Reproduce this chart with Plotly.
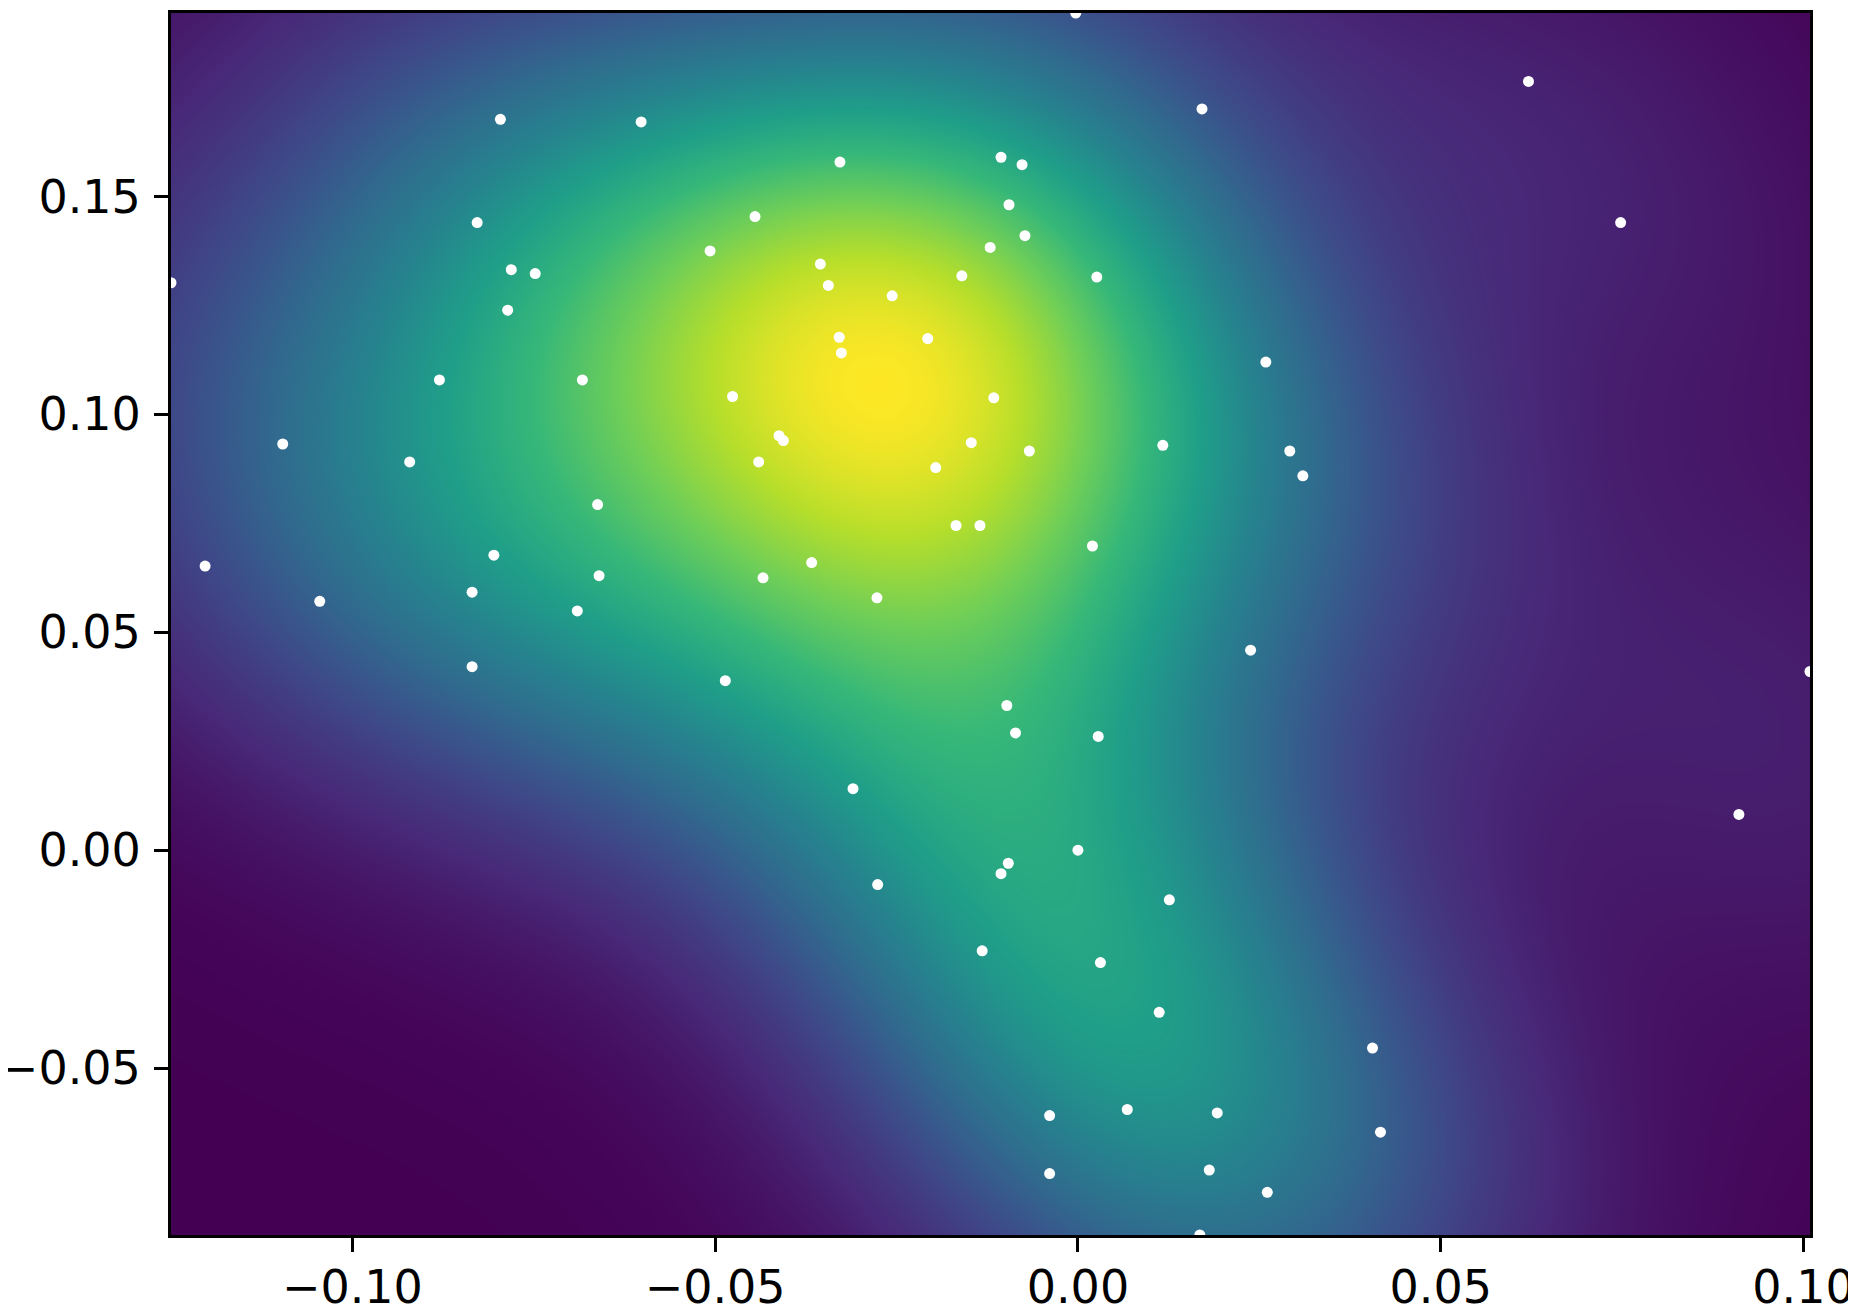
import numpy as np
import plotly.graph_objects as go

# Scatter points
x_vals = [-0.0003, 0.0621, 0.0171, -0.0796, -0.0602, -0.0328, -0.0106, -0.0077, -0.0095, -0.0445,
          -0.0828, 0.0748, -0.0073, -0.0507, -0.0121, -0.0355, -0.0781, -0.0748, -0.0160, 0.0026,
          -0.1250, -0.0344, -0.0256, -0.0786, -0.0329, -0.0207, -0.0326, 0.0259, -0.0880, -0.0683,
          -0.0476, -0.0116, -0.0412, -0.0406, -0.1096, -0.0147, 0.0117, -0.0067, 0.0292, -0.0921,
          -0.0440, -0.0196, 0.0310, -0.0662, -0.0168, -0.0135, 0.0020, -0.0805, -0.0367, -0.1203,
          -0.0660, -0.0434, -0.0835, -0.0277, -0.1045, -0.0690, 0.0238, -0.0835, -0.0486, 0.1009,
          -0.0098, -0.0086, 0.0028, -0.0310, 0.0911, 0.0000, -0.0096, -0.0106, -0.0276, 0.0126,
          -0.0132, 0.0031, 0.0112, 0.0406, -0.0039, 0.0068, 0.0192, 0.0417, -0.0039, 0.0181,
          0.0261, 0.0168]
y_vals = [0.1921, 0.1764, 0.1701, 0.1677, 0.1671, 0.1579, 0.1590, 0.1573, 0.1481, 0.1454,
          0.1440, 0.1440, 0.1410, 0.1375, 0.1383, 0.1345, 0.1332, 0.1323, 0.1318, 0.1315,
          0.1302, 0.1296, 0.1272, 0.1239, 0.1177, 0.1174, 0.1141, 0.1120, 0.1079, 0.1079,
          0.1041, 0.1038, 0.0951, 0.0940, 0.0932, 0.0935, 0.0929, 0.0916, 0.0916, 0.0891,
          0.0891, 0.0878, 0.0859, 0.0793, 0.0745, 0.0745, 0.0698, 0.0677, 0.0660, 0.0652,
          0.0630, 0.0625, 0.0592, 0.0579, 0.0571, 0.0549, 0.0459, 0.0421, 0.0389, 0.0410,
          0.0332, 0.0269, 0.0261, 0.0141, 0.0082, 0.0000, -0.0030, -0.0054, -0.0079, -0.0114,
          -0.0231, -0.0258, -0.0372, -0.0454, -0.0609, -0.0595, -0.0603, -0.0647, -0.0742, -0.0734,
          -0.0785, -0.0883]

x_ticks = [-0.10, -0.05, 0.00, 0.05, 0.10]
x_tick_text = ["\u22120.10", "\u22120.05", "0.00", "0.05", "0.10"]
y_ticks = [-0.05, 0.00, 0.05, 0.10, 0.15]
y_tick_text = ["\u22120.05", "0.00", "0.05", "0.10", "0.15"]

# Gaussian KDE computed from the points (Scott's rule, slightly widened)
pts = np.vstack([x_vals, y_vals])
n = pts.shape[1]
factor = 1.2 * n ** (-1.0 / 6.0)
cov = np.cov(pts) * factor ** 2
inv_cov = np.linalg.inv(cov)

xmin, xmax = min(x_vals), max(x_vals)
ymin, ymax = min(y_vals), max(y_vals)
gx = np.linspace(xmin, xmax, 300)
gy = np.linspace(ymin, ymax, 300)
GX, GY = np.meshgrid(gx, gy)
grid = np.vstack([GX.ravel(), GY.ravel()])
dens = np.zeros(grid.shape[1])
for i in range(n):
    d = grid - pts[:, i:i + 1]
    e = np.sum(d * (inv_cov @ d), axis=0)
    dens += np.exp(-0.5 * e)
Z = dens.reshape(GX.shape)

fig = go.Figure()
fig.add_trace(go.Heatmap(x=gx, y=gy, z=Z, colorscale="Viridis", showscale=False,
                         zsmooth="best", hoverinfo="skip"))
fig.add_trace(go.Scatter(x=x_vals, y=y_vals, mode="markers",
                         marker=dict(color="white", size=11, line=dict(width=0)),
                         showlegend=False, cliponaxis=True))

axis_common = dict(showline=True, mirror=True, linecolor="black", linewidth=3,
                   ticks="outside", ticklen=14, tickwidth=3, tickcolor="black",
                   showgrid=False, zeroline=False, automargin=False,
                   tickfont=dict(family="DejaVu Sans", size=46, color="black"))
fig.update_xaxes(range=[xmin, xmax], tickvals=x_ticks, ticktext=x_tick_text,
                 ticklabelstandoff=-4, **axis_common)
fig.update_yaxes(range=[ymin, ymax], tickvals=y_ticks, ticktext=y_tick_text,
                 ticklabelstandoff=4, **axis_common)

# page body adds an 8px offset, so the figure is 8px smaller on each side
fig.update_layout(width=1848, height=1301, margin=dict(l=163, r=46, t=5, b=74),
                  paper_bgcolor="white", plot_bgcolor="white", showlegend=False)

fig.write_html("out.html")
